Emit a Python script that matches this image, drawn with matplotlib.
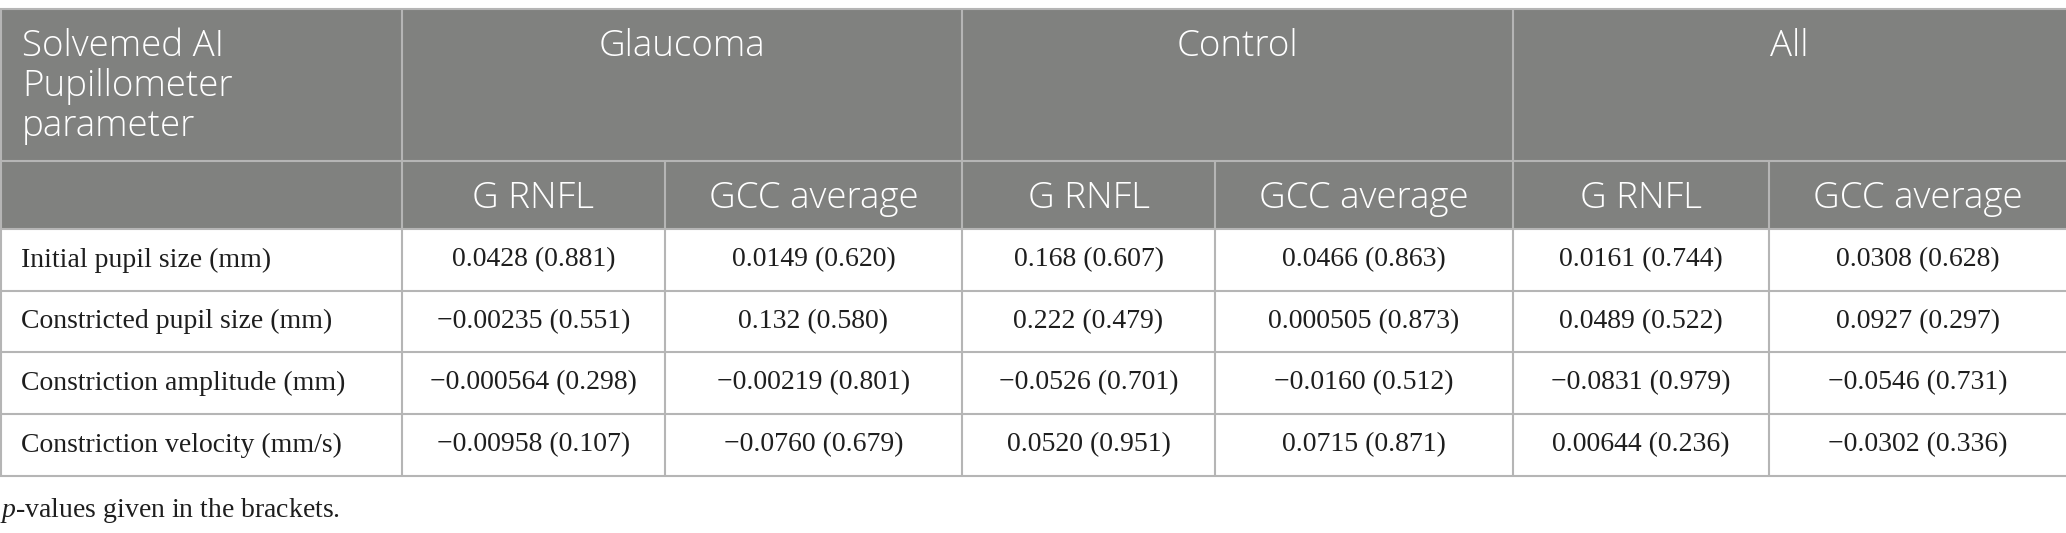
import matplotlib.pyplot as plt
from matplotlib.patches import Rectangle

plt.rcParams["mathtext.fontset"] = "custom"
plt.rcParams["mathtext.it"] = "Liberation Serif:italic"
plt.rcParams["mathtext.rm"] = "Liberation Serif"

corner_label = ["Solvemed AI", "Pupillometer", "parameter"]
groups = ["Glaucoma", "Control", "All"]
measures = ["G RNFL", "GCC average"]
parameters = [
    "Initial pupil size (mm)",
    "Constricted pupil size (mm)",
    "Constriction amplitude (mm)",
    "Constriction velocity (mm/s)",
]
# columns: glaucoma G RNFL, glaucoma GCC, control G RNFL, control GCC, all G RNFL, all GCC
coefficients = [
    ["0.0428", "0.0149", "0.168", "0.0466", "0.0161", "0.0308"],
    ["\u22120.00235", "0.132", "0.222", "0.000505", "0.0489", "0.0927"],
    ["\u22120.000564", "\u22120.00219", "\u22120.0526", "\u22120.0160", "\u22120.0831", "\u22120.0546"],
    ["\u22120.00958", "\u22120.0760", "0.0520", "0.0715", "0.00644", "\u22120.0302"],
]
p_values = [
    ["0.881", "0.620", "0.607", "0.863", "0.744", "0.628"],
    ["0.551", "0.580", "0.479", "0.873", "0.522", "0.297"],
    ["0.298", "0.801", "0.701", "0.512", "0.979", "0.731"],
    ["0.107", "0.679", "0.951", "0.871", "0.236", "0.336"],
]
footnote = "$p$-values given in the brackets."

W, H = 2066, 533
col_edges = [0, 402, 665, 962, 1215, 1513, 1769, W]
row_edges = [9, 161, 229, 291, 352, 414, 476]

header_bg = "#80817f"
line_col = "#b5b5b5"
body_col = "#1e1e1e"
sans = "Open Sans"
serif = "Liberation Serif"
hsize = 26.5

fig = plt.figure(figsize=(W / 100, H / 100), dpi=100)
ax = fig.add_axes([0, 0, 1, 1])
ax.set_xlim(0, W)
ax.set_ylim(H, 0)
ax.axis("off")

# header background
ax.add_patch(Rectangle((0, row_edges[0]), W, row_edges[2] - row_edges[0],
                       facecolor=header_bg, edgecolor="none"))

# header texts
for i, line in enumerate(corner_label):
    ax.text(22, 56 + i * 40, line, fontsize=hsize, family=sans, weight="light",
            color="white", ha="left", va="baseline")

for g, name in enumerate(groups):
    x0, x1 = col_edges[1 + 2 * g], col_edges[3 + 2 * g]
    ax.text((x0 + x1) / 2, 56, name, fontsize=hsize, family=sans, weight="light",
            color="white", ha="center", va="baseline")
    for m, meas in enumerate(measures):
        c0, c1 = col_edges[1 + 2 * g + m], col_edges[2 + 2 * g + m]
        ax.text((c0 + c1) / 2, 208, meas, fontsize=hsize, family=sans,
                weight="light", color="white", ha="center", va="baseline")

# body texts
for r, label in enumerate(parameters):
    yc = (row_edges[2 + r] + row_edges[3 + r]) / 2
    ax.text(21, yc, label, fontsize=20, family=serif, color=body_col,
            ha="left", va="center")
    for c in range(len(coefficients[r])):
        xc = (col_edges[1 + c] + col_edges[2 + c]) / 2
        ax.text(xc, yc, f"{coefficients[r][c]} ({p_values[r][c]})", fontsize=20,
                family=serif, color=body_col, ha="center", va="center")

# grid lines
lw = 1.5
for y in row_edges:
    ax.plot([0, W], [y, y], color=line_col, lw=lw, solid_capstyle="butt")
for i, x in enumerate(col_edges[:-1]):
    x = max(x, 0.8)
    top = row_edges[1] if i in (2, 4, 6) else row_edges[0]
    ax.plot([x, x], [top, row_edges[-1]], color=line_col, lw=lw, solid_capstyle="butt")

ax.text(0, 517, footnote, fontsize=20, family=serif, color=body_col,
        ha="left", va="baseline")

fig.savefig("out.png", dpi=100, facecolor="white")
